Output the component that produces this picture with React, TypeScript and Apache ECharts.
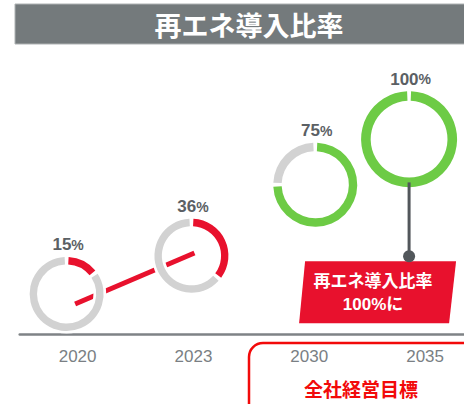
import React, { useEffect, useRef } from 'react';
import * as echarts from 'echarts';

// ---- data ----
const years = ['2020', '2023', '2030', '2035'];
const ratios = [15, 36, 75, 100];
const phases = ['actual', 'actual', 'target', 'target'];
const titleText = '再エネ導入比率';
const calloutLines = ['再エネ導入比率', '100%に'];
const goalLabel = '全社経営目標';

// ---- layout / style constants ----
const ringRadius = [37, 37, 42, 48];
const ringShiftX = [-11, -2, 6, -16];
const trendStartNudge = [8.5, 10];
const trendEndNudge = [3, -2.7];
const RED = '#e8112d';
const GREEN = '#6dcb45';
const GRAY = '#d2d2d2';
const DARK = '#52575b';
const LABEL = '#5b6064';
const NUM_FONT = '"Liberation Sans", Arial, sans-serif';
const CJK_FONT = '"Noto Sans CJK JP", sans-serif';

function ringCenter(api: any, i: number) {
  const c = api.coord([i, ratios[i]]);
  return [c[0] + ringShiftX[i], c[1]];
}

export default function App() {
  const ref = useRef<HTMLDivElement>(null);
  useEffect(() => {
    if (!ref.current) return;
    const chart = echarts.init(ref.current, undefined, { renderer: 'svg' });
    const data = years.map((_, i) => [i, ratios[i]]);
    const actualData = data.filter((_, i) => phases[i] === 'actual');

    chart.setOption({
      animation: false,
      grid: { left: 19.7, right: 0, top: 139.2, bottom: 82.75 },
      xAxis: {
        type: 'category',
        data: years,
        offset: 13,
        axisLine: { onZero: false, lineStyle: { color: '#7f8386', width: 2.5 } },
        axisTick: { show: false },
        axisLabel: { color: '#7a7f84', fontSize: 17, margin: 14, fontFamily: NUM_FONT },
        splitLine: { show: false },
      },
      yAxis: { type: 'value', min: 0, max: 100, show: false },
      graphic: [
        {
          type: 'rect',
          shape: { x: 15, y: 4, width: 470, height: 40 },
          style: { fill: '#747a7c', stroke: '#aeb2b3', lineWidth: 1 },
          z: 1,
        },
        {
          type: 'text',
          x: 249,
          y: 24,
          style: {
            text: titleText,
            fill: '#ffffff',
            font: `bold 27px ${CJK_FONT}`,
            textAlign: 'center',
            textVerticalAlign: 'middle',
            align: 'center',
            verticalAlign: 'middle',
          },
          z: 2,
        },
        {
          type: 'rect',
          shape: { x: 249, y: 343, width: 260, height: 100, r: 14 },
          style: { fill: 'none', stroke: '#f20a0a', lineWidth: 2.5 },
          z: 1,
        },
        {
          type: 'text',
          x: 361,
          y: 388,
          style: {
            text: goalLabel,
            fill: '#f20a0a',
            font: `bold 19px ${CJK_FONT}`,
            textAlign: 'center',
            textVerticalAlign: 'middle',
            align: 'center',
            verticalAlign: 'middle',
          },
          z: 2,
        },
      ],
      series: [
        {
          type: 'custom',
          name: 'trend',
          z: 2,
          data: actualData,
          encode: { x: 0, y: 1 },
          renderItem: (params: any, api: any) => {
            const i = params.dataIndex;
            if (i + 1 >= actualData.length) return { type: 'group', children: [] };
            const a = ringCenter(api, i);
            const b = ringCenter(api, i + 1);
            return {
              type: 'line',
              shape: {
                x1: a[0] + trendStartNudge[0],
                y1: a[1] + trendStartNudge[1],
                x2: b[0] + trendEndNudge[0],
                y2: b[1] + trendEndNudge[1],
              },
              style: { stroke: RED, lineWidth: 5, lineCap: 'butt' },
            };
          },
        },
        {
          type: 'custom',
          name: 'ratio',
          z: 3,
          data,
          encode: { x: 0, y: 1 },
          renderItem: (params: any, api: any) => {
            const i = params.dataIndex;
            const v = ratios[i];
            const [cx, cy] = ringCenter(api, i);
            const r = ringRadius[i];
            const w = r * 0.2;
            const r0 = r - w;
            const rm = (r + r0) / 2;
            const gap = 3.6 / rm;
            const start = -Math.PI / 2;
            const split = start + (2 * Math.PI * v) / 100;
            const color = phases[i] === 'actual' ? RED : GREEN;
            const children: any[] = [];
            children.push({
              type: 'ring',
              shape: { cx, cy, r: r + 2.6, r0: r0 - 2.8 },
              style: { fill: '#ffffff' },
            });
            if (v < 100) {
              children.push({
                type: 'sector',
                shape: { cx, cy, r, r0, startAngle: split + gap / 2, endAngle: start + 2 * Math.PI - gap / 2, clockwise: true },
                style: { fill: GRAY },
              });
            }
            children.push({
              type: 'sector',
              shape: { cx, cy, r, r0, startAngle: start + gap / 2, endAngle: split - gap / 2, clockwise: true },
              style: { fill: color },
            });
            children.push({
              type: 'text',
              x: cx + 1.5,
              y: cy - r - 12,
              style: {
                text: `{n|${v}}{p|%}`,
                textAlign: 'center',
                textVerticalAlign: 'middle',
                align: 'center',
                verticalAlign: 'middle',
                rich: {
                  n: { fontSize: 17, fontWeight: 'bold', fill: LABEL, color: LABEL, fontFamily: NUM_FONT },
                  p: { fontSize: 14, fontWeight: 'bold', fill: LABEL, color: LABEL, fontFamily: NUM_FONT },
                },
              },
            });
            if (i === data.length - 1) {
              const lineTop = cy + r - w / 2;
              const dotY = cy + r + 69;
              const top = dotY + 5;
              const bottom = dotY + 67;
              children.push({
                type: 'line',
                shape: { x1: cx, y1: lineTop, x2: cx, y2: dotY },
                style: { stroke: DARK, lineWidth: 3 },
              });
              children.push({
                type: 'polygon',
                shape: {
                  points: [
                    [cx - 104, top],
                    [cx + 47, top],
                    [cx + 40, bottom],
                    [cx - 110, bottom],
                  ],
                },
                style: { fill: RED },
              });
              children.push({
                type: 'circle',
                shape: { cx, cy: dotY, r: 6 },
                style: { fill: DARK },
              });
              calloutLines.forEach((t, k) => {
                children.push({
                  type: 'text',
                  x: cx - 36,
                  y: top + 18 + k * 25,
                  style: {
                    text: t,
                    fill: '#ffffff',
                    font: `bold 17px ${k === 0 ? CJK_FONT : NUM_FONT + ', ' + CJK_FONT}`,
                    textAlign: 'center',
                    textVerticalAlign: 'middle',
                    align: 'center',
                    verticalAlign: 'middle',
                  },
                });
              });
            }
            return { type: 'group', children };
          },
        },
      ],
    });
    return () => chart.dispose();
  }, []);
  return (
    <div style={{ width: 464, height: 404, position: 'absolute', left: 0, top: 0, overflow: 'hidden' }}>
      <div ref={ref} style={{ width: 483, height: 404 }} />
    </div>
  );
}
